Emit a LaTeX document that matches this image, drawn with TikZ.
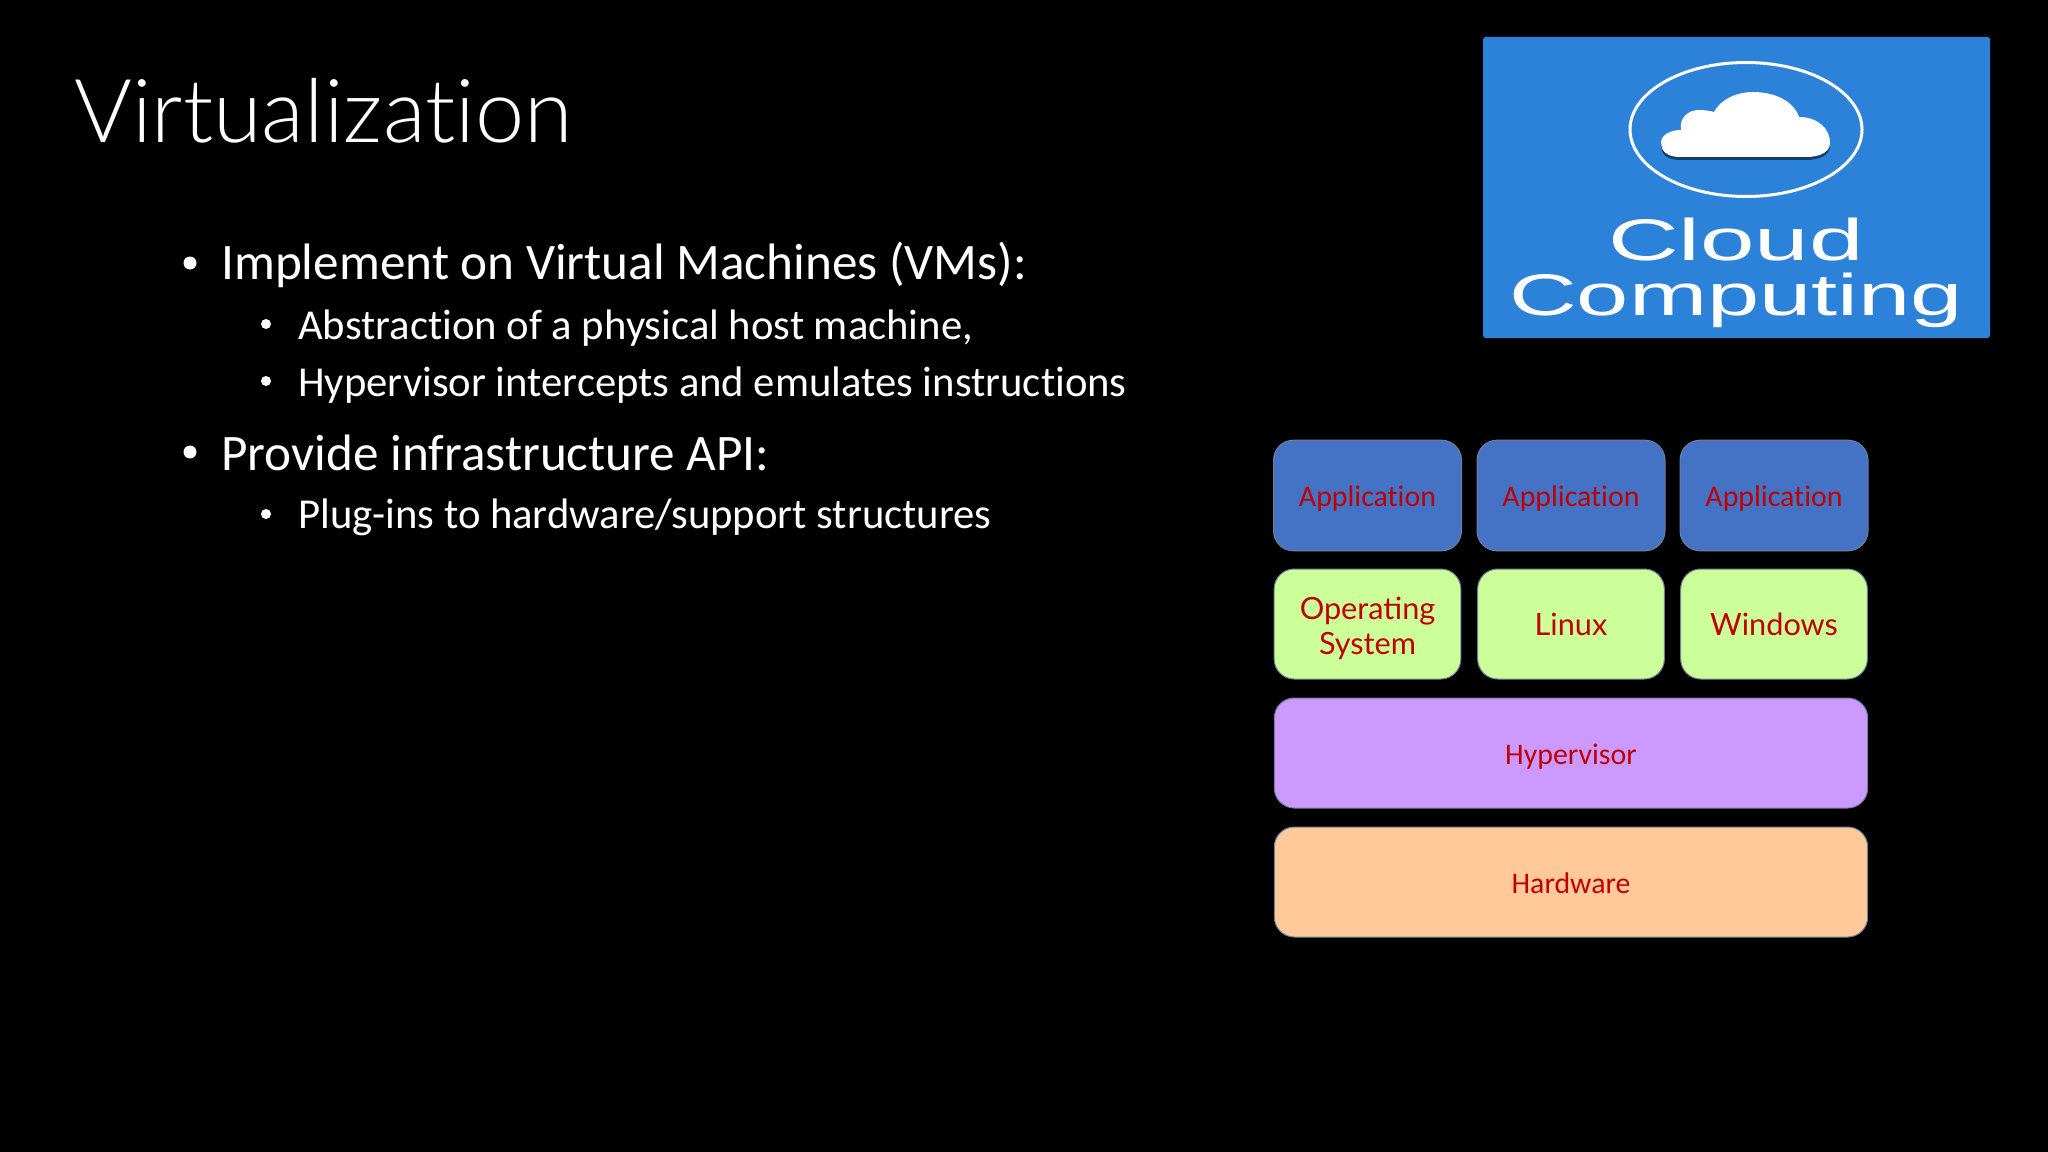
\documentclass[tikz,border=0pt]{standalone}
\usepackage{fontspec}
\setmainfont[RawFeature=-liga]{Carlito}
\newfontfamily\headingfont[RawFeature=-liga]{Lato Light}
\newfontfamily\oslabelfont{Lato}
\newfontfamily\logofont{Liberation Sans}
\definecolor{logoblue}{HTML}{2C82D9}
\definecolor{logoshade}{HTML}{123F6B}
\definecolor{appblue}{HTML}{4472C4}
\definecolor{osgreen}{HTML}{CCFF99}
\definecolor{hvpurple}{HTML}{CC99FF}
\definecolor{hworange}{HTML}{FFC999}
\definecolor{labelred}{HTML}{C00000}
\definecolor{edgegrey}{HTML}{6F7F9C}
\newcommand{\cloudshape}{(1680,157) .. controls (1666,157) and (1661,150) .. (1661,143)
  .. controls (1661,135) and (1670,130) .. (1681,130)
  .. controls (1679,118) and (1688,110) .. (1699,110)
  .. controls (1705,110) and (1710,111) .. (1714,112)
  .. controls (1720,100) and (1736,92) .. (1753,92)
  .. controls (1776,92) and (1794,102) .. (1799,117)
  .. controls (1817,117) and (1830,128) .. (1830,143)
  .. controls (1830,152) and (1820,157) .. (1806,157) -- cycle}
\tikzset{
  title/.style={anchor=base west, inner sep=0pt, text=white, font=\headingfont\fontsize{66.2}{80}\selectfont},
  levelone/.style={anchor=base west, inner sep=0pt, text=white, font=\fontsize{38.4}{46}\selectfont},
  leveltwo/.style={anchor=base west, inner sep=0pt, text=white, font=\fontsize{32}{38}\selectfont},
  stackbox/.style={draw=edgegrey, line width=0.75pt, rounded corners=15pt, inner sep=0pt, align=center,
    text=labelred, font=\fontsize{22.4}{28}\selectfont},
  oneline/.style={text height=22.5pt, text depth=5.5pt},
  appbox/.style={stackbox, oneline, fill=appblue, minimum width=141pt, minimum height=83pt},
  osbox/.style={stackbox, fill=osgreen, minimum width=140pt, minimum height=82.5pt, font=\oslabelfont\fontsize{23}{26}\selectfont},
  widebox/.style={stackbox, oneline, minimum width=445pt, minimum height=82.5pt},
  logotext/.style={inner sep=0pt, anchor=base, text=white, font=\logofont\fontsize{44}{44}\selectfont}
}
\begin{document}
\begin{tikzpicture}[x=0.75pt, y=-0.75pt]
    % Slide background
    \fill[black] (0,0) rectangle (2048,1152);
    \useasboundingbox (0,0) rectangle (2048,1152);

    % Title
    \node[title] (heading) at (74,143) {Virtualization};

    % Bullet text
    \node[levelone] (vms) at (221,279.5) {Implement on Virtual Machines (VMs):};
    \node[leveltwo] (abstraction) at (298,339.5) {Abstraction of a physical host machine,};
    \node[leveltwo] (intercepts) at (298,396.5) {Hypervisor intercepts and emulates instructions};
    \node[levelone] (api) at (221,470.5) {Provide infrastructure API:};
    \node[leveltwo] (plugins) at (298,528.5) {Plug-ins to hardware/support structures};

    % Bullet dots
    \fill[white] (190,263) circle (6.5);
    \fill[white] (266,324) circle (5);
    \fill[white] (266,381) circle (5);
    \fill[white] (190,452) circle (6.5);
    \fill[white] (266,514) circle (5);

    % Cloud Computing logo
    \fill[logoblue, rounded corners=2pt] (1483,37) rectangle (1990,338);
    \draw[white, line width=2.25pt] (1746,129.5) ellipse [x radius=116, y radius=67];
    \fill[logoshade, shift={(0,3)}] \cloudshape;
    \fill[white] \cloudshape;
    \node[logotext, xscale=1.67] (cloudword) at (1736,260) {Cloud};
    \node[logotext, xscale=1.60] (computingword) at (1736,315) {Computing};

    % Application row
    \node[appbox] (appone) at (1367.5,495.5) {Application};
    \node[appbox] (apptwo) at (1571,495.5) {Application};
    \node[appbox] (appthree) at (1774,495.5) {Application};

    % Operating system row
    \node[osbox] (osone) at (1367.5,624) {\rule{0pt}{23pt}Operating\\System};
    \node[osbox, oneline] (ostwo) at (1571,624) {Linux};
    \node[osbox, oneline] (osthree) at (1774,624) {Windows};

    % Lower layers
    \node[widebox, fill=hvpurple] (hypervisor) at (1571,753) {Hypervisor};
    \node[widebox, fill=hworange] (hardware) at (1571,882) {Hardware};
  \end{tikzpicture}
\end{document}
